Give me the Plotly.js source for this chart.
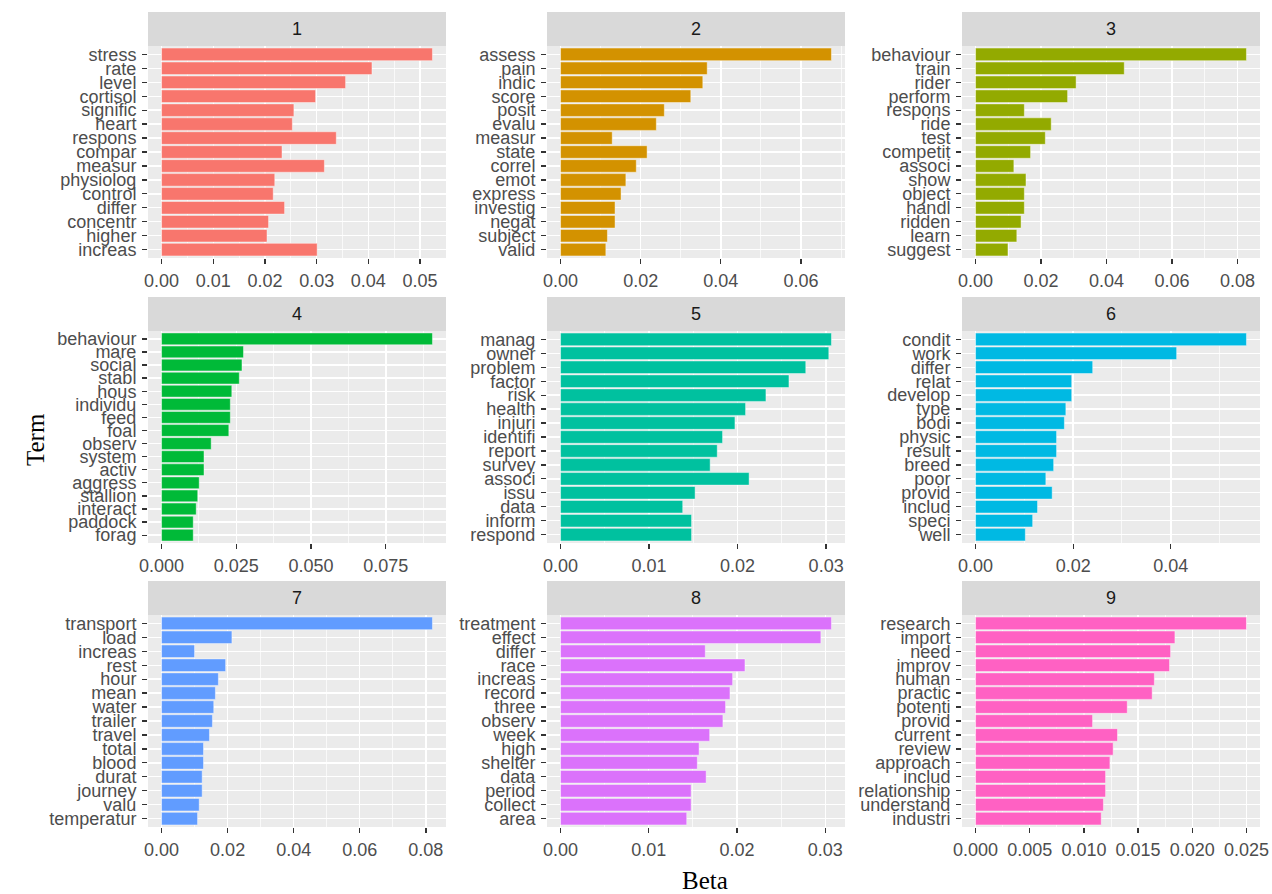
<!DOCTYPE html>
<html>
<head>
<meta charset="utf-8">
<script src="https://cdn.plot.ly/plotly-3.0.1.min.js"></script>
<style>html,body{margin:0;padding:0;background:#fff;}#chart{width:1272px;height:894px;}</style>
</head>
<body>
<div id="chart"></div>
<script>
// ---- data ----
const terms1 = ["stress","rate","level","cortisol","signific","heart","respons","compar","measur","physiolog","control","differ","concentr","higher","increas"];
const beta1  = [0.0524,0.0407,0.0356,0.0298,0.0256,0.0253,0.0338,0.0233,0.0315,0.0219,0.0216,0.0238,0.0207,0.0204,0.0301];

const terms2 = ["assess","pain","indic","score","posit","evalu","measur","state","correl","emot","express","investig","negat","subject","valid"];
const beta2  = [0.0676,0.0366,0.0355,0.0325,0.0259,0.0239,0.0129,0.0216,0.0189,0.0163,0.0151,0.0136,0.0136,0.0117,0.0113];

const terms3 = ["behaviour","train","rider","perform","respons","ride","test","competit","associ","show","object","handl","ridden","learn","suggest"];
const beta3  = [0.0827,0.0454,0.0307,0.0281,0.0149,0.0231,0.0213,0.0168,0.0117,0.0154,0.0149,0.0149,0.0139,0.0126,0.0099];

const terms4 = ["behaviour","mare","social","stabl","hous","individu","feed","foal","observ","system","activ","aggress","stallion","interact","paddock","forag"];
const beta4  = [0.0906,0.0274,0.0269,0.0260,0.0235,0.0230,0.0230,0.0225,0.0166,0.0142,0.0142,0.0126,0.0121,0.0116,0.0106,0.0106];

const terms5 = ["manag","owner","problem","factor","risk","health","injuri","identifi","report","survey","associ","issu","data","inform","respond"];
const beta5  = [0.0306,0.0303,0.0277,0.0258,0.0232,0.0209,0.0197,0.0183,0.0177,0.0169,0.0213,0.0152,0.0138,0.0148,0.0148];

const terms6 = ["condit","work","differ","relat","develop","type","bodi","physic","result","breed","poor","provid","includ","speci","well"];
const beta6  = [0.0555,0.0412,0.0240,0.0197,0.0197,0.0185,0.0182,0.0166,0.0166,0.0160,0.0144,0.0157,0.0127,0.0117,0.0102];

const terms7 = ["transport","load","increas","rest","hour","mean","water","trailer","travel","total","blood","durat","journey","valu","temperatur"];
const beta7  = [0.0820,0.0213,0.0100,0.0194,0.0172,0.0163,0.0158,0.0154,0.0145,0.0127,0.0127,0.0123,0.0123,0.0114,0.0109];

const terms8 = ["treatment","effect","differ","race","increas","record","three","observ","week","high","shelter","data","period","collect","area"];
const beta8  = [0.0307,0.0295,0.0164,0.0209,0.0195,0.0192,0.0187,0.0184,0.0169,0.0157,0.0155,0.0165,0.0148,0.0148,0.0143];

const terms9 = ["research","import","need","improv","human","practic","potenti","provid","current","review","approach","includ","relationship","understand","industri"];
const beta9  = [0.0250,0.0184,0.0180,0.0179,0.0165,0.0163,0.0140,0.0108,0.0131,0.0127,0.0124,0.0120,0.0120,0.0118,0.0116];

const topics = ["1","2","3","4","5","6","7","8","9"];
const colors = ["#F8766D","#D39200","#93AA00","#00BA38","#00C19F","#00B9E3","#619CFF","#DB72FB","#FF61C3"];
const xTickStep = [0.01,0.02,0.02,0.025,0.01,0.02,0.02,0.01,0.005];
const xTickFmt  = [".2f",".2f",".2f",".3f",".2f",".2f",".2f",".2f",".3f"];
const xAxisTitle = "Beta";
const yAxisTitle = "Term";

// ---- layout geometry ----
const W = 1272, H = 894;
const cols = [[148,446],[547,845],[962,1260]];
const rows = [[46,258],[331,543],[615,827]];
const stripH = 34;

const allTerms = [terms1,terms2,terms3,terms4,terms5,terms6,terms7,terms8,terms9];
const allBeta  = [beta1,beta2,beta3,beta4,beta5,beta6,beta7,beta8,beta9];

const tickFont = {family:"Liberation Sans, Arial, sans-serif", size:18, color:"#4D4D4D"};
const traces = [];
const layout = {
  width:W, height:H,
  margin:{l:0,r:0,t:0,b:0},
  paper_bgcolor:"#FFFFFF",
  plot_bgcolor:"#EBEBEB",
  showlegend:false,
  bargap:0.1,
  shapes:[], annotations:[]
};

for (let i=0;i<9;i++){
  const r = Math.floor(i/3), c = i%3;
  const sfx = i===0 ? "" : String(i+1);
  const t = allTerms[i], b = allBeta[i];
  traces.push({
    type:"bar", orientation:"h",
    x:b, y:t,
    xaxis:"x"+sfx, yaxis:"y"+sfx,
    marker:{color:colors[i], line:{color:"rgba(255,255,255,0.55)", width:0.8}},
    hoverinfo:"x+y"
  });
  const mx = Math.max(...b);
  const n = t.length;
  layout["xaxis"+sfx] = {
    domain:[cols[c][0]/W, cols[c][1]/W],
    anchor:"y"+sfx,
    range:[-0.05*mx, 1.05*mx],
    tickmode:"linear", tick0:0, dtick:xTickStep[i],
    tickformat:xTickFmt[i],
    showgrid:true, gridcolor:"#FFFFFF", gridwidth:1.4,
    minor:{showgrid:true, gridcolor:"#FFFFFF", gridwidth:0.7, dtick:xTickStep[i]/2, tick0:0},
    zeroline:false, showline:false,
    ticks:"outside", ticklen:5, tickwidth:1.3, tickcolor:"#333333",
    ticklabelstandoff:1,
    tickfont:tickFont, fixedrange:true
  };
  layout["yaxis"+sfx] = {
    domain:[1-rows[r][1]/H, 1-rows[r][0]/H],
    anchor:"x"+sfx,
    type:"category",
    range:[n-1+0.6, -0.6],
    tickmode:"array", tickvals:t, ticktext:t,
    showgrid:true, gridcolor:"#FFFFFF", gridwidth:1.4,
    zeroline:false, showline:false,
    ticks:"outside", ticklen:5, tickwidth:1.3, tickcolor:"#333333",
    ticklabelstandoff:2,
    tickfont:tickFont, fixedrange:true
  };
  layout.shapes.push({
    type:"rect", xref:"paper", yref:"paper",
    x0:cols[c][0]/W, x1:cols[c][1]/W,
    y0:1-rows[r][0]/H, y1:1-(rows[r][0]-stripH)/H,
    fillcolor:"#D9D9D9", line:{width:0}, layer:"below"
  });
  layout.annotations.push({
    xref:"paper", yref:"paper",
    x:(cols[c][0]+cols[c][1])/2/W, y:1-(rows[r][0]-stripH/2)/H,
    text:topics[i], showarrow:false, xanchor:"center", yanchor:"middle",
    font:{family:"Liberation Sans, Arial, sans-serif", size:18, color:"#1A1A1A"}
  });
}
layout.annotations.push({
  xref:"paper", yref:"paper", x:705/W, y:1-880/H,
  text:xAxisTitle, showarrow:false, xanchor:"center", yanchor:"middle",
  font:{family:"Liberation Serif, Times New Roman, serif", size:25, color:"#000000"}
});
layout.annotations.push({
  xref:"paper", yref:"paper", x:35/W, y:1-440/H,
  text:yAxisTitle, showarrow:false, xanchor:"center", yanchor:"middle", textangle:-90,
  font:{family:"Liberation Serif, Times New Roman, serif", size:25, color:"#000000"}
});

Plotly.newPlot("chart", traces, layout, {displayModeBar:false, staticPlot:true});
</script>
</body>
</html>
